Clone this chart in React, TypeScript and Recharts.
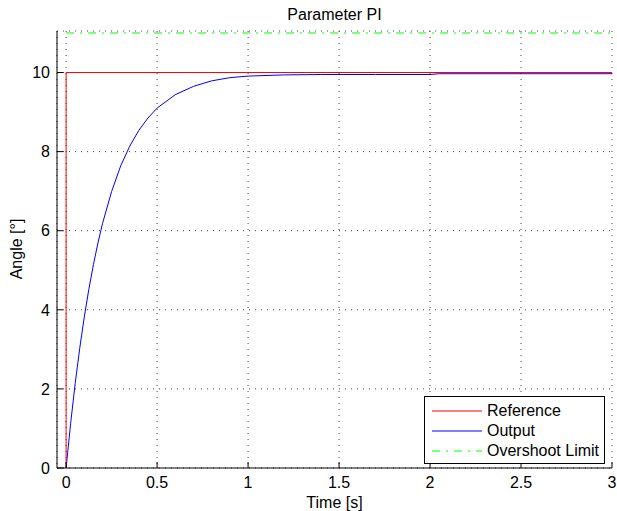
import { LineChart, Line, XAxis, YAxis, CartesianGrid, Legend } from "recharts";

// reference step
const refTime = [0, 0, 3];
const refAngle = [0, 10, 10];

const outTime = [
  0, 0.025, 0.05, 0.075, 0.1, 0.125, 0.15, 0.175, 0.2, 0.25, 0.3, 0.35, 0.4,
  0.45, 0.5, 0.6, 0.7, 0.8, 0.9, 1.0, 1.2, 1.4, 1.7, 2.0, 2.05, 2.5, 3.0,
];
const outAngle = [
  0, 1.13, 2.14, 3.03, 3.82, 4.52, 5.14, 5.69, 6.18, 6.99, 7.64, 8.14, 8.54,
  8.85, 9.1, 9.44, 9.65, 9.79, 9.87, 9.91, 9.94, 9.95, 9.95, 9.95, 9.97, 9.97,
  9.97,
];

// overshoot limit
const limitTime = [0, 3];
const limitAngle = [11, 11];

const xTicks = [0, 0.5, 1, 1.5, 2, 2.5, 3];
const yTicks = [0, 2, 4, 6, 8, 10];

const refData = refTime.map((t, i) => ({ t, v: refAngle[i] }));
const outData = outTime.map((t, i) => ({ t, v: outAngle[i] }));
const limitData = limitTime.map((t, i) => ({ t, v: limitAngle[i] }));

const FONT = "'Liberation Sans', Arial, sans-serif";

const legendItems = [
  { name: "Reference", color: "#ff0000", dash: undefined },
  { name: "Output", color: "#0000ff", dash: undefined },
  { name: "Overshoot Limit", color: "#00ff00", dash: "8 6 2 6" },
];

function XTick(props: any) {
  const { x, y, payload } = props;
  return (
    <g>
      <line x1={x} x2={x} y1={y - 9} y2={y - 15} stroke="#000" />
      <text x={x} y={y} dy="0.71em" textAnchor="middle" fontSize={16} fontFamily={FONT} fill="#000">
        {payload.value}
      </text>
    </g>
  );
}

function YTick(props: any) {
  const { x, y, payload } = props;
  return (
    <g>
      <line x1={x + 7} x2={x + 13} y1={y} y2={y} stroke="#000" />
      <text x={x} y={y} dy="0.36em" textAnchor="end" fontSize={16} fontFamily={FONT} fill="#000">
        {payload.value}
      </text>
    </g>
  );
}

function LegendBox() {
  return (
    <div
      style={{
        width: 181,
        height: 68,
        boxSizing: "border-box",
        border: "1px solid #000",
        background: "#fff",
        paddingTop: 4,
        fontFamily: FONT,
        fontSize: 16,
      }}
    >
      {legendItems.map((it) => (
        <div key={it.name} style={{ display: "flex", alignItems: "center", height: 20 }}>
          <svg width={62} height={20} style={{ display: "block" }}>
            <line x1={7} x2={57} y1={10} y2={10} stroke={it.color} strokeWidth={1} strokeDasharray={it.dash} />
          </svg>
          <span style={{ lineHeight: "20px" }}>{it.name}</span>
        </div>
      ))}
    </div>
  );
}

export default function App() {
  return (
    <div style={{ position: "absolute", left: 0, top: 0, width: 617, height: 511, background: "#fff" }}>
      <LineChart width={617} height={511} margin={{ top: 31, right: 5, bottom: 0, left: 0 }}>
        <CartesianGrid stroke="#444" strokeDasharray="1 5" />
        <XAxis
          type="number"
          dataKey="t"
          domain={[-0.05, 3]}
          ticks={xTicks}
          allowDataOverflow
          height={43}
          tickSize={0}
          tickMargin={9}
          tick={<XTick />}
          stroke="#000"
        />
        <YAxis
          type="number"
          dataKey="v"
          domain={[0, 11.05]}
          ticks={yTicks}
          allowDataOverflow
          width={57}
          tickSize={0}
          tickMargin={7}
          tick={<YTick />}
          stroke="#000"
        />
        <Line data={limitData} dataKey="v" stroke="#00ff00" strokeWidth={1} strokeDasharray="8 6 2 6" dot={false} isAnimationActive={false} />
        <Line data={outData} dataKey="v" stroke="#0000ff" strokeWidth={1} dot={false} isAnimationActive={false} />
        <Line data={refData} dataKey="v" stroke="#ff0000" strokeWidth={1} dot={false} isAnimationActive={false} />
        <Legend
          layout="horizontal"
          verticalAlign="middle"
          align="center"
          content={<LegendBox />}
          wrapperStyle={{ position: "absolute", left: 424, top: 396, width: 181, height: 68 }}
        />
        <text x={334.5} y={20} textAnchor="middle" fontSize={16} fontFamily={FONT} fill="#000">
          Parameter PI
        </text>
        <text x={334.5} y={508} textAnchor="middle" fontSize={16} fontFamily={FONT} fill="#000">
          Time [s]
        </text>
        <text
          x={22}
          y={249}
          transform="rotate(-90 22 249)"
          textAnchor="middle"
          fontSize={16}
          fontFamily={FONT}
          fill="#000"
        >
          Angle [°]
        </text>
      </LineChart>
    </div>
  );
}
